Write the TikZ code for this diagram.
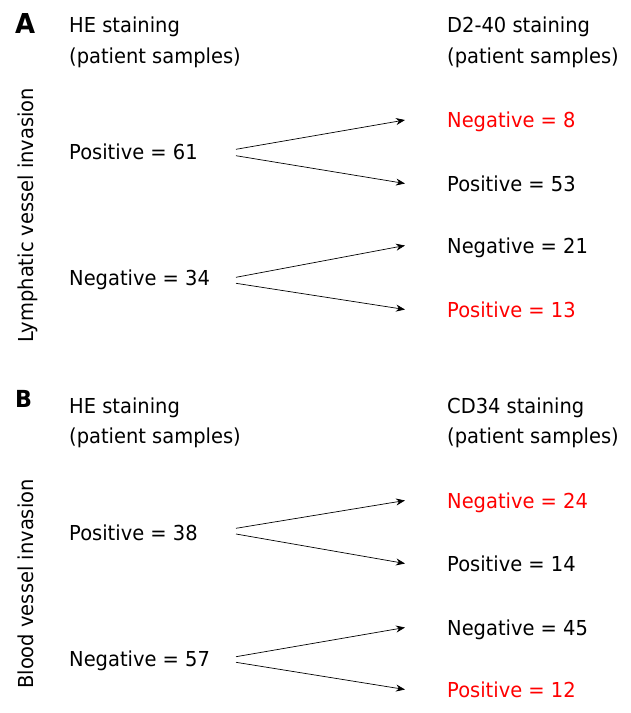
\documentclass[tikz,border=0pt]{standalone}
\usepackage{fontspec}
\setmainfont{DejaVu Sans}[FakeStretch=0.945]
\usetikzlibrary{arrows.meta}
\begin{document}
\begin{tikzpicture}[x=1pt,y=-1pt,
  txt/.style={anchor=base west, inner sep=0pt, font=\fontsize{20.6}{24}\selectfont, text height=15pt, text depth=0pt},
  neg/.style={txt, text=red},
  rot/.style={rotate=90, anchor=base, inner sep=0pt, font=\fontsize{20.6}{24}\selectfont},
  panel/.style={anchor=base west, inner sep=0pt, font=\bfseries},
  arr/.style={-{Stealth[length=9pt,width=7pt]}, line width=0.7pt}]
\useasboundingbox (0,0) rectangle (630,713);
% ---------- Panel A ----------
\node[panel, font=\fontsize{27.4}{30}\selectfont\bfseries] (pA) at (15,33) {A};
\node[txt] (heA1) at (69,32) {HE staining};
\node[txt] (heA2) at (69,63) {(patient samples)};
\node[txt] (dA1) at (447,32) {D2-40 staining};
\node[txt] (dA2) at (447,63) {(patient samples)};
\node[rot] (lvi) at (33,215) {Lymphatic vessel invasion};
\node[txt] (pA61) at (69,159) {Positive = 61};
\node[txt] (nA34) at (69,285) {Negative = 34};
\node[neg] (rA1) at (447,127.5) {Negative = 8};
\node[txt] (rA2) at (447,191) {Positive = 53};
\node[txt] (rA3) at (447,253) {Negative = 21};
\node[neg] (rA4) at (447,317) {Positive = 13};
\coordinate (sA1) at (236,149.3);
\coordinate (sA2) at (236,155.7);
\coordinate (sA3) at (236,277.3);
\coordinate (sA4) at (236,283.3);
\draw[arr] (sA1) -- ([xshift=-42pt]rA1.west);
\draw[arr] (sA2) -- ([xshift=-42pt]rA2.west);
\draw[arr] (sA3) -- ([xshift=-42pt]rA3.west);
\draw[arr] (sA4) -- ([xshift=-42pt]rA4.west);
% ---------- Panel B ----------
\node[panel, font=\fontsize{23.5}{26}\selectfont\bfseries] (pB) at (15,407) {B};
\node[txt] (heB1) at (69,413) {HE staining};
\node[txt] (heB2) at (69,443) {(patient samples)};
\node[txt] (dB1) at (447,413) {CD34 staining};
\node[txt] (dB2) at (447,443) {(patient samples)};
\node[rot] (bvi) at (33,584) {Blood vessel invasion};
\node[txt] (pB38) at (69,540) {Positive = 38};
\node[txt] (nB57) at (69,666) {Negative = 57};
\node[neg] (rB1) at (447,508) {Negative = 24};
\node[txt] (rB2) at (447,571) {Positive = 14};
\node[txt] (rB3) at (447,635) {Negative = 45};
\node[neg] (rB4) at (447,697) {Positive = 12};
\coordinate (sB1) at (236,528.3);
\coordinate (sB2) at (236,534);
\coordinate (sB3) at (236,656.7);
\coordinate (sB4) at (236,662.3);
\draw[arr] (sB1) -- ([xshift=-42pt]rB1.west);
\draw[arr] (sB2) -- ([xshift=-42pt]rB2.west);
\draw[arr] (sB3) -- ([xshift=-42pt]rB3.west);
\draw[arr] (sB4) -- ([xshift=-42pt]rB4.west);
\end{tikzpicture}
\end{document}
